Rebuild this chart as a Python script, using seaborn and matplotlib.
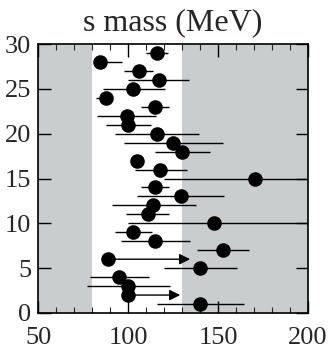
import numpy as np
import pandas as pd
import matplotlib
matplotlib.use("Agg")
import matplotlib.pyplot as plt
import seaborn as sns

# one measurement per row, y = 1 .. 29
rows = [1, 2, 3, 4, 5, 6, 7, 8, 9, 10, 11, 12, 13, 14, 15,
        16, 17, 18, 19, 20, 21, 22, 23, 24, 25, 26, 27, 28, 29]
mass = [140, 100, 100, 95, 140, 89, 152.5, 115, 103, 148, 111, 114, 129.5, 115, 170.5,
        118, 105, 130, 125, 116, 100, 99.5, 115, 88, 103, 117, 106, 84.5, 116]
err_lo = [116, 100, 77, 79, 120, 89, 138.5, 96, 93, 100, 99, 91, 105, 107, 120,
          104, 105, 115, 98, 93, 88, 83, 107, 82, 86, 100, 98, 82, 110]
err_hi = [164.5, 129, 123.5, 111.5, 160.5, 134.5, 167, 134.5, 113.5, 200, 123, 137.5, 153.5, 123, 200,
          132.5, 105, 145.5, 152.5, 139.5, 112.5, 115.5, 123, 91, 120.5, 134, 114, 96.5, 122]
# rows drawn as lower limits (arrow instead of bar)
limit_rows = [2, 6]

band_lo, band_hi = 80, 130

df = pd.DataFrame({"y": rows, "mass": mass, "lo": err_lo, "hi": err_hi})
df["limit"] = df["y"].isin(limit_rows)

sns.set_style("ticks")
plt.rcParams["font.family"] = ["Liberation Serif", "DejaVu Serif"]

fig = plt.figure(figsize=(3.32, 3.58), dpi=100)
ax = fig.add_axes([0.1145, 0.1257, 0.8132, 0.7513])

ax.axvspan(50, band_lo, color="#c9cdce", lw=0, zorder=0)
ax.axvspan(band_hi, 200, color="#c9cdce", lw=0, zorder=0)

bars = df[~df["limit"]]
ax.hlines(bars["y"], bars["lo"], bars["hi"], color="black", lw=1.0, zorder=2)

for _, r in df[df["limit"]].iterrows():
    ax.annotate("", xy=(r["hi"], r["y"]), xytext=(r["mass"], r["y"]),
                arrowprops=dict(arrowstyle="-|>", color="black", lw=1.0,
                                mutation_scale=16, shrinkA=0, shrinkB=0),
                zorder=2)

sns.scatterplot(data=df, x="mass", y="y", ax=ax, color="black", s=110,
                edgecolor="black", linewidth=0, zorder=3, legend=False)

ax.set_xlim(50, 200)
ax.set_ylim(0, 30)
ax.set_xticks([50, 100, 150, 200])
ax.set_xticks(np.arange(50, 201, 10), minor=True)
ax.set_yticks([0, 5, 10, 15, 20, 25, 30])
ax.tick_params(axis="both", which="major", direction="in", length=9, width=1,
               top=True, right=True, labelsize=19, color="black")
ax.tick_params(axis="x", which="minor", direction="in", length=4, width=0.8,
               top=True, bottom=True)
ax.tick_params(axis="x", which="major", pad=10)
ax.tick_params(axis="y", pad=5)
ax.set_xlabel("")
ax.set_ylabel("")
for s in ax.spines.values():
    s.set_linewidth(1.2)
    s.set_color("black")

ax.set_title("s mass (MeV)", fontsize=23, pad=10)

fig.savefig("out.png", dpi=100)
